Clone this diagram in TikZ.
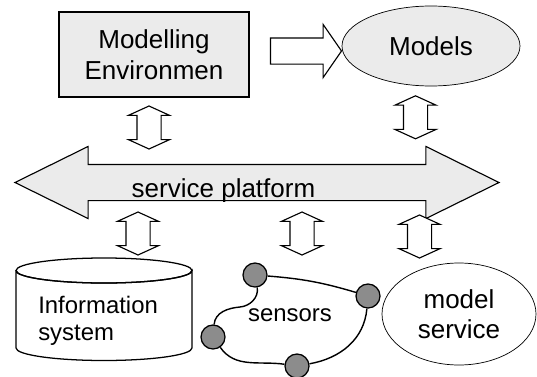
\documentclass[tikz,border=0pt]{standalone}
\usepackage{fontspec}
\setmainfont{Liberation Sans}
\usepackage{tikz}
\usetikzlibrary{shapes.geometric, shapes.arrows, calc}
\definecolor{boxgray}{RGB}{235,235,235}
\definecolor{dotgray}{RGB}{140,140,140}
\tikzset{
  updown/.style={double arrow, draw, fill=white, line width=0.8pt, rotate=90,
    inner sep=0.2875cm, minimum height=1.075cm,
    double arrow head extend=0.2125cm, double arrow tip angle=131},
  envbox/.style={rectangle, draw, fill=boxgray, line width=1pt, inner sep=0pt,
    minimum width=4.75cm, minimum height=2.125cm, align=center,
    font=\fontsize{18.5}{22}\selectfont},
  sensordot/.style={circle, draw, fill=dotgray, line width=0.9pt, inner sep=0pt,
    minimum size=0.6cm},
  link/.style={line width=1pt}
}

\begin{document}
\begin{tikzpicture}
    \useasboundingbox (0,0) rectangle (13.425,9.4);

    \node[envbox] (env) at (3.85, 8.0375) {Modelling\\Environmen};
    \node[ellipse, draw, fill=boxgray, line width=0.5pt, inner sep=0pt,
        minimum width=4.45cm, minimum height=2cm,
        font=\fontsize{18.5}{22}\selectfont] (models) at (10.775, 8.25) {Models};
    \node[single arrow, draw, fill=white, line width=0.8pt, inner sep=0.3125cm,
        minimum height=1.775cm, single arrow head extend=0.3375cm,
        single arrow tip angle=110.6] (produce) at (7.5375, 8.125) {};

    \node[double arrow, draw, fill=boxgray, line width=0.8pt, inner sep=0.4375cm,
        minimum height=12.1cm, double arrow head extend=0.45cm,
        double arrow tip angle=52.5] (platform) at (6.425, 4.8375) {};
    \begin{scope}
        \clip (0,4.375) rectangle (13.425,5.5);
        \node[anchor=base, inner sep=0pt, font=\fontsize{18.5}{22}\selectfont]
            (platformlabel) at (5.5875, 4.475) {service platform};
    \end{scope}

    \node[updown] (envlink) at (3.725, 6.2125) {};
    \node[updown] (modelslink) at (10.3875, 6.4675) {};
    \node[updown] (infolink) at (3.45, 3.5625) {};
    \node[updown] (sensorlink) at (7.55, 3.5625) {};
    \node[updown] (servicelink) at (10.4875, 3.4875) {};

    \draw[line width=0.9pt, fill=white] (0.4,2.6375) -- (0.4,0.7)
        arc[start angle=180, end angle=360, x radius=2.2cm, y radius=0.3125cm]
        -- (4.8,2.6375)
        arc[start angle=0, end angle=-180, x radius=2.2cm, y radius=0.3125cm];
    \draw[line width=0.9pt] (2.6,2.6375) ellipse[x radius=2.2cm, y radius=0.3125cm];
    \node[anchor=west, inner sep=0pt, align=left,
        font=\fontsize{17}{19.2}\selectfont] (info) at (0.95, 1.3875) {Information\\system};

    \coordinate (kink) at (6.0, 1.725);
    \node[sensordot] (s1) at (6.375, 2.525) {};
    \node[sensordot] (s2) at (9.2, 2.0) {};
    \node[sensordot] (s3) at (7.425, 0.25) {};
    \node[sensordot] (s4) at (5.325, 0.975) {};
    \draw[link] (s1) to[bend left=6] (s2);
    \draw[link] (s2) to[out=-95, in=10] (s3);
    \draw[link] (s3) to[out=172, in=-55] (s4);
    \draw[link] (s4) to[out=85, in=185] (kink) to[out=5, in=-80] (s1);
    \node[font=\fontsize{17}{19.2}\selectfont] (sensors) at (7.25, 1.525) {sensors};

    \node[ellipse, draw, fill=white, line width=0.5pt, inner sep=0pt,
        minimum width=3.85cm, minimum height=2.55cm, align=center,
        font=\fontsize{18.5}{21.3}\selectfont] (service) at (11.475, 1.55) {model\\service};
\end{tikzpicture}
\end{document}
